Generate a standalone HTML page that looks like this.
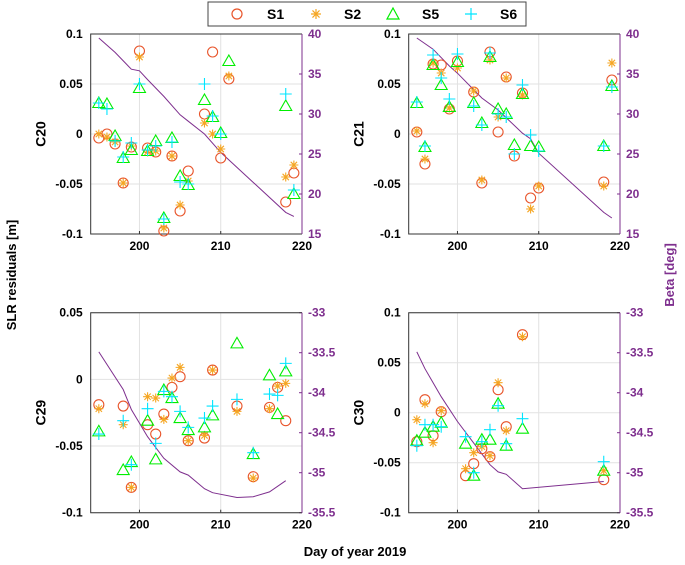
<!DOCTYPE html>
<html><head><meta charset="utf-8"><style>
html,body{margin:0;padding:0;background:#fff;}
svg{display:block;font-family:"Liberation Sans",Arial,sans-serif;font-weight:bold;}
</style></head><body>
<svg id="chart" width="685" height="565" viewBox="0 0 685 565">
<g>
<rect x="208" y="2" width="318" height="24" fill="#fff" stroke="#444" stroke-width="1"/>
<circle cx="237" cy="14" r="5" fill="none" stroke="#e8542a" stroke-width="1.2"/>
<text x="267" y="19" font-size="14">S1</text>
<g id="legstar"></g>
<text x="344" y="19" font-size="14">S2</text>
<path d="M393,8 L399,19 L387,19 Z" fill="none" stroke="#00ee00" stroke-width="1.2"/>
<text x="422" y="19" font-size="14">S5</text>
<path d="M465,14 L477,14 M471,8 L471,20" stroke="#00e5ff" stroke-width="1.2"/>
<text x="500" y="19" font-size="14">S6</text>
</g>
<text transform="translate(16,275) rotate(-90)" text-anchor="middle" font-size="13">SLR residuals [m]</text>
<text transform="translate(674,275) rotate(-90)" text-anchor="middle" font-size="13" fill="#7e2f8e">Beta [deg]</text>
<text x="355" y="556" text-anchor="middle" font-size="13">Day of year 2019</text>
</svg>
<script>
// ---- Panel C20 ----
const c20Days=[195,196,197,198,199,200,201,202,203,204,205,206,208,209,210,211,218,219];
const c20S1=[-0.004,0,-0.01,-0.049,-0.013,0.083,-0.014,-0.018,-0.097,-0.022,-0.077,-0.037,0.02,0.082,-0.024,0.055,-0.068,-0.039];
const c20S2=[0,-0.003,-0.008,-0.049,-0.012,0.077,-0.018,-0.017,-0.094,-0.022,-0.071,-0.047,0.011,0,-0.015,0.058,-0.043,-0.031];
const c20S5=[0.031,0.03,-0.002,-0.024,-0.016,0.046,-0.017,-0.007,-0.084,-0.004,-0.042,-0.051,0.034,0.017,0.001,0.073,0.028,-0.06];
const c20S6Days=[195,196,197,198,199,200,201,202,203,204,205,206,208,209,210,218,219];
const c20S6=[0.031,0.025,-0.007,-0.023,-0.009,0.05,-0.016,-0.012,-0.085,-0.008,-0.048,-0.05,0.05,0.018,0,0.04,-0.056];
const c20BetaDays=[195,197,199,200,201,203,205,206,208,210,218,219];
const c20Beta=[39.5,37.7,35.6,35.4,34.3,32.2,29.9,29.1,27.5,25.2,17.7,17.2];
// ---- Panel C21 ----
const c21Days=[195,196,197,198,199,200,202,203,204,205,206,207,208,209,210,218,219];
const c21S1=[0.002,-0.03,0.07,0.069,0.025,0.073,0.042,-0.049,0.082,0.002,0.057,-0.022,0.041,-0.064,-0.054,-0.048,0.054];
const c21S2Days=[195,196,197,198,199,200,202,203,204,205,206,208,209,210,218,219];
const c21S2=[0.003,-0.025,0.071,0.061,0.026,0.066,0.043,-0.046,0.074,0.017,0.056,0.039,-0.075,-0.052,-0.052,0.071];
const c21S5=[0.031,-0.013,0.069,0.049,0.027,0.072,0.031,0.011,0.077,0.025,0.02,-0.011,0.04,-0.012,-0.013,-0.012,0.048];
const c21S6=[0.032,-0.012,0.079,0.056,0.035,0.08,0.028,0.009,0.081,0.02,0.017,-0.02,0.049,-0.001,-0.017,-0.012,0.047];
const c21BetaDays=[195,197,199,200,203,205,208,209,210,218,219];
const c21Beta=[39.5,38.1,36,35.1,32,30.5,27.6,26.9,25.1,17.7,17];
// ---- Panel C29 ----
const c29Days=[195,198,199,201,202,203,204,205,206,208,209,212,214,216,217,218];
const c29S1=[-0.019,-0.02,-0.081,-0.034,-0.041,-0.026,-0.006,0.002,-0.046,-0.044,0.007,-0.02,-0.073,-0.021,-0.006,-0.031];
const c29S2=[-0.022,-0.034,-0.081,-0.013,-0.014,-0.03,0.001,0.009,-0.046,-0.042,0.007,-0.024,-0.074,-0.022,-0.005,-0.003];
const c29S5=[-0.039,-0.068,-0.062,-0.031,-0.06,-0.008,-0.014,-0.029,-0.038,-0.036,-0.027,0.027,-0.056,0.003,-0.026,0.006];
const c29S6=[-0.041,-0.031,-0.064,-0.022,-0.048,-0.009,-0.013,-0.024,-0.036,-0.029,-0.02,-0.015,-0.055,-0.011,-0.012,0.012];
const c29BetaDays=[195,198,199,201,203,205,206,208,209,212,214,216,218];
const c29Beta=[-33.49,-33.96,-34.21,-34.55,-34.82,-34.99,-35.03,-35.2,-35.25,-35.31,-35.3,-35.24,-35.1];
// ---- Panel C30 ----
const c30Days=[195,196,197,198,201,202,203,204,205,206,208,218];
const c30S1=[-0.029,0.013,-0.023,0.001,-0.063,-0.051,-0.036,-0.044,0.023,-0.014,0.078,-0.067];
const c30S2=[-0.007,0.009,-0.03,0.002,-0.056,-0.04,-0.034,-0.043,0.03,-0.018,0.076,-0.058];
const c30S5=[-0.028,-0.02,-0.014,-0.01,-0.031,-0.063,-0.027,-0.027,0.009,-0.033,-0.016,-0.058];
const c30S6=[-0.033,-0.012,-0.012,-0.014,-0.024,-0.06,-0.029,-0.017,0.007,-0.031,-0.006,-0.049];
const c30BetaDays=[195,196,198,200,202,204,205,206,208,218];
const c30Beta=[-33.49,-33.7,-34.05,-34.36,-34.63,-34.9,-34.99,-35.02,-35.2,-35.11];

const xTicks=[200,210,220];
const yTicksA=[-0.1,-0.05,0,0.05,0.1];
const yTicksB=[-0.1,-0.05,0,0.05];
const rTicksA=[15,20,25,30,35,40];
const rTicksB=[-35.5,-35,-34.5,-34,-33.5,-33];

const NS="http://www.w3.org/2000/svg";
const svg=document.getElementById('chart');
const C1="#e8542a",C2="#f5a623",C5="#00ee00",C6="#00e5ff",CB="#7e2f8e";
function mk(tag,attrs,parent){const e=document.createElementNS(NS,tag);for(const k in attrs)e.setAttribute(k,attrs[k]);(parent||svg).appendChild(e);return e;}
function starPath(x,y,r){let d="";for(let i=0;i<4;i++){const a=i*Math.PI/4;d+=`M${x-r*Math.cos(a)},${y-r*Math.sin(a)}L${x+r*Math.cos(a)},${y+r*Math.sin(a)}`;}return d;}
const ls=mk('path',{d:starPath(316,14,5),stroke:C2,'stroke-width':1.2},document.getElementById('legstar'));

function panel(o){
  const g=mk('g',{});
  
  
  const sx=d=>o.L+(d-194)/(220-194)*(o.R-o.L);
  const sy=v=>o.B-(v-o.ymin)/(o.ymax-o.ymin)*(o.B-o.T);
  const sr=v=>o.B-(v-o.rmin)/(o.rmax-o.rmin)*(o.B-o.T);
  mk('rect',{x:o.L,y:o.T,width:o.R-o.L,height:o.B-o.T,fill:'#fff'},g);
  xTicks.forEach(t=>{const x=sx(t);
    mk('line',{x1:x,x2:x,y1:o.T,y2:o.B,stroke:'#e2e2e2','stroke-width':1},g);
    mk('line',{x1:x,x2:x,y1:o.B,y2:o.B-3,stroke:'#333'},g);
    const tx=mk('text',{x:x,y:o.B+16,'text-anchor':'middle','font-size':12},g);tx.textContent=t;
    
    
  });
  o.yt.forEach(t=>{const y=sy(t);
    mk('line',{x1:o.L,x2:o.R,y1:y,y2:y,stroke:'#e2e2e2','stroke-width':1},g);
    const tx=mk('text',{x:o.L-8,y:y+4,'text-anchor':'end','font-size':12},g);tx.textContent=(t===0?'0':String(t));
    
    
  });
  o.rt.forEach(t=>{const y=sr(t);
    mk('line',{x1:o.R,x2:o.R-3,y1:y,y2:y,stroke:CB},g);
    const tx=mk('text',{x:o.R+6,y:y+4,'font-size':12,fill:CB},g);tx.textContent=String(t);
    
    
  });
  mk('path',{d:`M${o.R},${o.T}L${o.L},${o.T}L${o.L},${o.B}L${o.R},${o.B}`,fill:'none',stroke:'#333','stroke-width':1},g);
  mk('line',{x1:o.R,x2:o.R,y1:o.T,y2:o.B,stroke:CB,'stroke-width':1},g);
  const lab=mk('text',{transform:`translate(${o.L-45},${(o.T+o.B)/2}) rotate(-90)`,'text-anchor':'middle','font-size':14},g);
  lab.textContent=o.label;
  
  
  // beta line
  const bl=mk('polyline',{points:o.bd.map((d,i)=>sx(d)+','+sr(o.bv[i])).join(' '),fill:'none',stroke:CB,'stroke-width':1},g);
  
  
  // S1
  o.s1.forEach((v,i)=>{const c=mk('circle',{cx:sx(o.d1[i]),cy:sy(v),r:5,fill:'none',stroke:C1,'stroke-width':1.1},g);
    
    });
  o.s2.forEach((v,i)=>{const p=mk('path',{d:starPath(sx(o.d2[i]),sy(v),4.5),stroke:C2,'stroke-width':1.1},g);
    
    });
  o.s5.forEach((v,i)=>{const x=sx(o.d5[i]),y=sy(v);const p=mk('path',{d:`M${x},${y-6}L${x+6},${y+4.5}L${x-6},${y+4.5}Z`,fill:'none',stroke:C5,'stroke-width':1.1},g);
    
    });
  o.s6.forEach((v,i)=>{const x=sx(o.d6[i]),y=sy(v);const p=mk('path',{d:`M${x-6},${y}L${x+6},${y}M${x},${y-6}L${x},${y+6}`,stroke:C6,'stroke-width':1.1},g);
    
    });
}
panel({name:'panel-c20',label:'C20',L:90.7,R:302,T:34,B:234,ymin:-0.1,ymax:0.1,rmin:15,rmax:40,yt:yTicksA,rt:rTicksA,
  d1:c20Days,s1:c20S1,d2:c20Days,s2:c20S2,d5:c20Days,s5:c20S5,d6:c20S6Days,s6:c20S6,bd:c20BetaDays,bv:c20Beta});
panel({name:'panel-c21',label:'C21',L:408.7,R:620,T:34,B:234,ymin:-0.1,ymax:0.1,rmin:15,rmax:40,yt:yTicksA,rt:rTicksA,
  d1:c21Days,s1:c21S1,d2:c21S2Days,s2:c21S2,d5:c21Days,s5:c21S5,d6:c21Days,s6:c21S6,bd:c21BetaDays,bv:c21Beta});
panel({name:'panel-c29',label:'C29',L:90.7,R:302,T:312.7,B:512.7,ymin:-0.1,ymax:0.05,rmin:-35.5,rmax:-33,yt:yTicksB,rt:rTicksB,
  d1:c29Days,s1:c29S1,d2:c29Days,s2:c29S2,d5:c29Days,s5:c29S5,d6:c29Days,s6:c29S6,bd:c29BetaDays,bv:c29Beta});
panel({name:'panel-c30',label:'C30',L:408.7,R:620,T:312.7,B:512.7,ymin:-0.1,ymax:0.1,rmin:-35.5,rmax:-33,yt:yTicksA,rt:rTicksB,
  d1:c30Days,s1:c30S1,d2:c30Days,s2:c30S2,d5:c30Days,s5:c30S5,d6:c30Days,s6:c30S6,bd:c30BetaDays,bv:c30Beta});
</script>
</body></html>
